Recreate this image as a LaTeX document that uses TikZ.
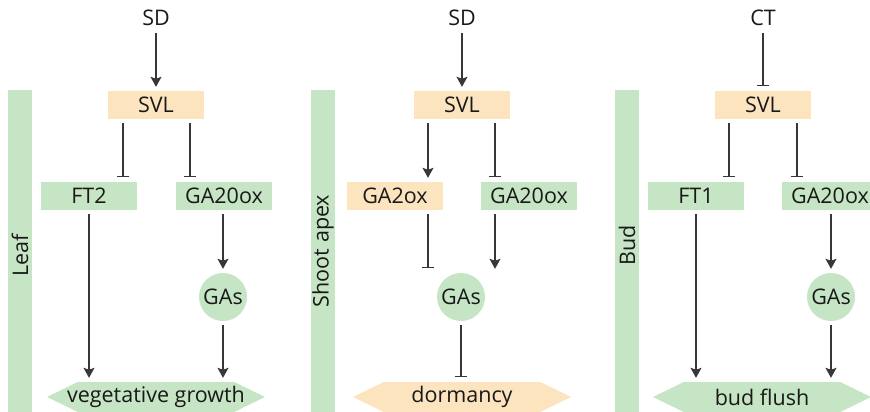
\documentclass[tikz,border=0pt]{standalone}
\usepackage{fontspec}
\setmainfont{Open Sans}
\usetikzlibrary{arrows.meta,shapes.symbols}
\definecolor{leafgreen}{RGB}{198,229,197}
\definecolor{peach}{RGB}{252,228,191}
\definecolor{linegray}{RGB}{55,55,55}
\tikzset{
	gene/.style	= {rectangle, minimum width=96pt, minimum height=28pt, inner sep=0pt},
	hormone/.style	= {circle, fill=leafgreen, minimum size=48pt, inner sep=0pt},
	outcome/.style	= {signal, signal to=west and east, signal pointer angle=52, minimum width=218pt, minimum height=30pt, inner sep=0pt},
	tissue/.style	= {rectangle, fill=leafgreen, minimum width=24pt, minimum height=322pt, inner sep=0pt},
	act/.style	= {draw=linegray, line width=1.1pt, -{Stealth[length=10pt,width=11pt,inset=2pt]}, shorten <=4pt, shorten >=4pt},
	inh/.style	= {draw=linegray, line width=1.1pt, -{Bar[width=12pt,line width=1.1pt]}, shorten <=4pt, shorten >=5pt}
}
\begin{document}
\begin{tikzpicture}[x=1pt,y=-1pt,font=\fontsize{21.5}{25}\selectfont,text=black!90]
	\useasboundingbox (0,0) rectangle (870,412);
	\node (Leaf) at ( 20, 251)	[tissue]	{\rotatebox{90}{Leaf\hspace{8pt}}};
	\node (Apex) at (323, 251)	[tissue]	{\rotatebox{90}{Shoot apex}};
	\node (Bud)  at (627, 251)	[tissue]	{\rotatebox{90}{\hspace{12pt}Bud}};
	\node (SD1) at (156,  18)	{SD};
	\node (SVL1) at (156, 105)	[gene, fill=peach]	{SVL};
	\node (FT2) at ( 89, 196)	[gene, fill=leafgreen]	{FT2};
	\node (GA20ox1) at (224, 196)	[gene, fill=leafgreen]	{GA20ox};
	\node (GAs1) at (223, 297)	[hormone]	{GAs};
	\node (Veg) at (156, 397)	[outcome, fill=leafgreen]	{\makebox[0pt]{vegetative growth}};
	\node (SD2) at (462,  18)	{SD};
	\node (SVL2) at (462, 105)	[gene, fill=peach]	{SVL};
	\node (GA2ox) at (395, 196)	[gene, fill=peach]	{GA2ox};
	\node (GA20ox2) at (529, 196)	[gene, fill=leafgreen]	{GA20ox};
	\node (GAs2) at (461, 297)	[hormone]	{GAs};
	\node (Dorm) at (462, 397)	[outcome, fill=peach]	{\makebox[0pt]{dormancy}};
	\node (CT) at (763,  18)	{CT};
	\node (SVL3) at (763, 105)	[gene, fill=peach]	{SVL};
	\node (FT1) at (696, 196)	[gene, fill=leafgreen]	{FT1};
	\node (GA20ox3) at (830, 196)	[gene, fill=leafgreen]	{GA20ox};
	\node (GAs3) at (831, 297)	[hormone]	{GAs};
	\node (Flush) at (762, 397)	[outcome, fill=leafgreen]	{\makebox[0pt]{bud flush}};
	\draw[act] (SD1) -- (SVL1);
	\draw[inh] ([xshift=-33pt]SVL1.south) -- ([xshift=34pt]FT2.north);
	\draw[inh] ([xshift=34pt]SVL1.south) -- ([xshift=-34pt]GA20ox1.north);
	\draw[act] (FT2.south) -- ([xshift=-67pt]Veg.north);
	\draw[act] ([xshift=-1pt]GA20ox1.south) -- (GAs1.north);
	\draw[act] (GAs1.south) -- ([xshift=67pt]Veg.north);
	\draw[act] (SD2) -- (SVL2);
	\draw[act] ([xshift=-34pt]SVL2.south) -- ([xshift=33pt]GA2ox.north);
	\draw[inh] ([xshift=33pt]SVL2.south) -- ([xshift=-34pt]GA20ox2.north);
	\draw[inh] ([xshift=33pt]GA2ox.south) -- ([xshift=-33pt]GAs2.north);
	\draw[act] ([xshift=-34pt]GA20ox2.south) -- ([xshift=34pt]GAs2.north);
	\draw[inh] (GAs2.south) -- ([xshift=-1pt]Dorm.north);
	\draw[inh] (CT) -- (SVL3);
	\draw[inh] ([xshift=-34pt]SVL3.south) -- ([xshift=33pt]FT1.north);
	\draw[inh] ([xshift=34pt]SVL3.south) -- ([xshift=-33pt]GA20ox3.north);
	\draw[act] (FT1.south) -- ([xshift=-66pt]Flush.north);
	\draw[act] ([xshift=1pt]GA20ox3.south) -- (GAs3.north);
	\draw[act] (GAs3.south) -- ([xshift=69pt]Flush.north);
\end{tikzpicture}
\end{document}
